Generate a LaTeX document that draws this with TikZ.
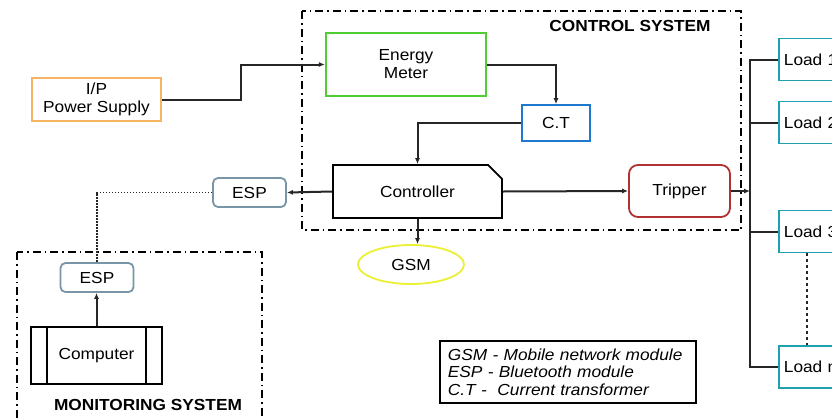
\documentclass[tikz,border=0pt]{standalone}
\usepackage{fontspec}
\setmainfont{Liberation Sans}[FakeStretch=1.08]
\usetikzlibrary{arrows.meta, positioning, shapes.geometric, shapes.misc}
\definecolor{psuorange}{RGB}{245,180,100}
\definecolor{metergreen}{RGB}{80,205,50}
\definecolor{ctblue}{RGB}{30,120,205}
\definecolor{loadteal}{RGB}{30,160,175}
\definecolor{tripred}{RGB}{175,50,50}
\definecolor{gsmyellow}{RGB}{235,240,50}
\definecolor{espgrey}{RGB}{120,150,165}

\begin{document}
\begin{tikzpicture}[x=1pt, y=-1pt,
  blk/.style={draw, line width=1.8pt, align=center, inner sep=0pt, font=\fontsize{16}{18}\selectfont},
  espbox/.style={blk, draw=espgrey, rounded corners=5pt, minimum width=73pt, minimum height=29pt},
  loadbox/.style={blk, draw=loadteal, anchor=west, minimum height=42pt, text width=62pt, align=left, inner xsep=5pt},
  conn/.style={draw=black!85, line width=2pt, -{Latex[length=6pt,width=5pt]}},
  wire/.style={draw=black!85, line width=2pt},
  sysbox/.style={line width=2pt, dash pattern=on 8pt off 4pt on 1.5pt off 4pt},
  title/.style={font=\fontsize{16}{18}\selectfont\bfseries}
]
  \useasboundingbox (0,0) rectangle (832,418);
  \clip (0,0) rectangle (832,418);

  % system frames
  \draw[sysbox] (302,11) rectangle (741,230);
  \draw[sysbox] (17,252) rectangle (262,430);
  \node[title] (ctrltitle) at (630,26) {CONTROL SYSTEM};
  \node[title] (montitle) at (148,405) {MONITORING SYSTEM};

  % blocks
  \node[blk, draw=psuorange, minimum width=129pt, minimum height=43pt] (psu) at (96.5,99.5) {I/P\\Power Supply};
  \node[blk, draw=metergreen, line width=2.2pt, minimum width=160pt, minimum height=63pt] (meter) at (406,64.5) {Energy\\Meter};
  \node[blk, draw=ctblue, minimum width=68pt, minimum height=36pt] (ct) at (556,123) {C.T};
  \node[blk, chamfered rectangle, chamfered rectangle corners=north east, chamfered rectangle xsep=8pt, chamfered rectangle ysep=8pt, minimum width=169pt, minimum height=53pt] (ctrl) at (417.5,191.5) {Controller};
  \node[blk, draw=tripred, rounded corners=9pt, minimum width=101pt, minimum height=52pt] (trip) at (679.5,191) {Tripper};
  \node[espbox] (esp) at (249.5,192.5) {ESP};
  \node[espbox] (espm) at (97,277.5) {ESP};
  \node[blk, minimum width=131pt, minimum height=57pt] (comp) at (96.5,355.5) {Computer};
  \draw[line width=1.8pt] ([xshift=17pt]comp.north west) -- ([xshift=17pt]comp.south west)
    ([xshift=-17pt]comp.north east) -- ([xshift=-17pt]comp.south east);
  \node[blk, ellipse, draw=gsmyellow, minimum width=106pt, minimum height=39pt] (gsm) at (411,264.5) {GSM};

  % loads
  \foreach \n/\y/\t in {1/59.5/Load 1, 2/122.5/Load 2, 3/231.5/Load 3, n/367/Load n}
    \node[loadbox] (load\n) at (778,\y) {\t};

  % legend
  \node[draw, line width=1.8pt, anchor=north west, text width=240pt, minimum height=62pt, align=left, inner xsep=8pt, inner ysep=4pt, font=\fontsize{16}{17.5}\selectfont\itshape] (legend) at (439,340)
    {GSM - Mobile network module\\ESP - Bluetooth module\\C.T -\ \ Current transformer};

  % connectors
  \draw[conn] (psu.east) -- ++(79,0) |- (meter.west);
  \draw[conn] (meter.east) -| (ct.north);
  \draw[conn] (ct.west) -| (ctrl.north);
  \draw[conn] (ctrl.west) -- (esp.east);
  \draw[wire, line width=1.8pt, dash pattern=on 1.5pt off 1.5pt] (esp.west) -| (espm.north);
  \draw[conn] (comp.north) -- (comp.north |- espm.south);
  \draw[conn] (ctrl.south) -- (ctrl.south |- gsm.north);
  \draw[conn] (ctrl.east) -- (trip.west);
  \coordinate (bus) at (750,0);
  \draw[conn] (trip.east) -- (trip.east -| bus);
  \draw[wire] (load1.west) -- (load1.west -| bus) -- (loadn.west -| bus) -- (loadn.west);
  \draw[wire] (load2.west) -- (load2.west -| bus);
  \draw[wire] (load3.west) -- (load3.west -| bus);
  \draw[wire, dashed, line width=1.4pt] ([xshift=29pt]load3.south west) -- ([xshift=29pt]loadn.north west);
\end{tikzpicture}
\end{document}
